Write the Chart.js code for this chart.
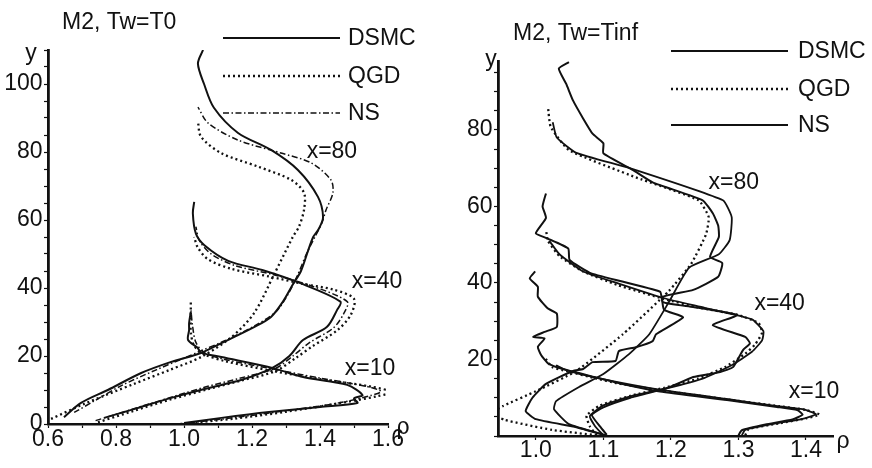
<!DOCTYPE html>
<html>
<head>
<meta charset="utf-8">
<script src="https://cdn.jsdelivr.net/npm/chart.js@4.4.1/dist/chart.umd.min.js"></script>
<style>
  html, body { margin: 0; padding: 0; background: #fff; }
  #wrap { position: relative; width: 872px; height: 468px; }
  .panel { position: absolute; top: 0; width: 436px; height: 468px; }
</style>
</head>
<body>
<div id="wrap">
  <div class="panel" style="left:0"><canvas id="leftChart" width="436" height="468"></canvas></div>
  <div class="panel" style="left:436px"><canvas id="rightChart" width="436" height="468"></canvas></div>
</div>
<script>
const seriesNames = ['DSMC', 'QGD', 'NS'];
const stations = ['x=10', 'x=40', 'x=80'];

// left panel  (M2, Tw=T0), points are [rho, y]
const leftDsmc10 = [[1.0,0.3],[1.11,1.8],[1.25,3.5],[1.40,5],[1.51,6.2],[1.50,7.5],[1.525,8.5],[1.48,11.5],[1.35,13.8],[1.26,16.5],[1.11,19.7],[1.05,21],[1.04,22.4],[1.012,24.7],[1.015,27.6],[1.015,29.7],[1.02,33]];
const leftQgd10 = [[0.99,0],[1.15,1.6],[1.30,3.6],[1.45,6],[1.57,8.2],[1.61,9.4],[1.55,11],[1.40,13.2],[1.26,15.6],[1.12,18.5],[1.06,20.5],[1.03,23],[1.02,27],[1.02,31],[1.02,36]];
const leftNs10 = [[1.015,0.3],[1.15,1.9],[1.30,3.9],[1.45,6.1],[1.55,8.4],[1.58,9.6],[1.53,11.2],[1.40,13.5],[1.27,16],[1.12,19],[1.06,21],[1.035,24],[1.025,29],[1.02,34]];

const leftDsmc40 = [[0.765,1.8],[0.86,4.6],[0.96,7.6],[1.06,10.3],[1.17,13],[1.26,16.5],[1.31,20],[1.35,24.7],[1.42,28.5],[1.45,33.5],[1.46,36],[1.34,41.5],[1.23,45.3],[1.13,48],[1.06,52.6],[1.035,56],[1.026,62],[1.03,65.3]];
const leftQgd40 = [[0.747,0.5],[0.85,3.8],[0.96,7.2],[1.07,10.2],[1.17,12.8],[1.27,15.6],[1.33,19.5],[1.38,23],[1.45,27.5],[1.49,32],[1.50,36.8],[1.44,39.5],[1.35,41.2],[1.25,43.4],[1.14,45.6],[1.07,48.5],[1.04,52],[1.03,55]];
const leftNs40 = [[0.74,1],[0.85,4.4],[0.96,7.8],[1.06,10.8],[1.17,13.6],[1.27,16.4],[1.32,20],[1.37,24],[1.44,28.3],[1.47,32.5],[1.48,36],[1.37,40.8],[1.26,44],[1.15,46.6],[1.08,50],[1.045,54],[1.035,58]];

const leftDsmc80 = [[0.647,2],[0.697,6.2],[0.776,10],[0.874,15],[0.96,18.2],[1.05,20.9],[1.11,23.8],[1.206,28.5],[1.256,31.5],[1.291,36],[1.32,41],[1.344,45],[1.365,51],[1.38,55],[1.397,57.5],[1.409,60.9],[1.394,66.8],[1.335,74.7],[1.256,80.6],[1.159,85.6],[1.088,93],[1.059,100],[1.041,106],[1.056,110]];
const leftQgd80 = [[0.609,1.5],[0.706,5.9],[0.853,11.8],[0.96,16],[1.05,19.7],[1.14,25.6],[1.206,32.6],[1.265,44],[1.32,55],[1.338,58],[1.353,63],[1.353,68],[1.315,71.8],[1.218,75.7],[1.109,79.7],[1.05,84.5],[1.041,89]];
const leftNs80 = [[0.677,3.4],[0.74,7],[0.82,11.5],[0.92,16],[1.05,21.5],[1.12,24.5],[1.21,29],[1.27,33],[1.305,38],[1.335,44],[1.36,50],[1.385,55],[1.405,59],[1.418,63],[1.438,68],[1.432,71.8],[1.374,76.8],[1.285,79.7],[1.159,83.5],[1.071,88.5],[1.041,93.2]];

// right panel  (M2, Tw=Tinf)
const rightDsmc10 = [[1.30,0.2],[1.305,1.5],[1.34,3],[1.38,4.3],[1.395,5.6],[1.387,6.8],[1.357,7.6],[1.283,9.4],[1.184,11.6],[1.13,13.5],[1.087,15.4],[1.04,17.5],[1.018,19],[1.008,21.1],[1.003,23.3],[1.013,25.5],[0.996,25.9],[1.013,27.2],[1.031,28.5],[1.031,32],[1.018,33.3],[1.003,36.4],[1.003,39],[0.991,41.2],[0.999,43]];
const rightQgd10 = [[1.31,0.2],[1.315,1.8],[1.36,3.3],[1.40,4.6],[1.42,5.6],[1.40,6.8],[1.36,7.8],[1.29,9.4],[1.19,11.8],[1.12,13.8],[1.09,15],[1.045,17],[1.024,18],[1.013,20.6]];
const rightNs10 = [[1.305,0.2],[1.31,1.6],[1.35,3.1],[1.395,4.5],[1.415,5.7],[1.395,7],[1.355,7.9],[1.285,9.6],[1.19,11.9],[1.09,15.2],[1.045,17.2],[1.03,18.5]];

const rightDsmc40 = [[1.105,0.3],[1.095,2.5],[1.083,5.5],[1.10,7.5],[1.14,10],[1.184,12],[1.199,12.8],[1.233,15.4],[1.273,16.7],[1.292,18],[1.307,22.5],[1.317,24.2],[1.31,25.9],[1.262,29],[1.298,31.6],[1.233,33.7],[1.188,35],[1.184,37.7],[1.082,42.5],[1.05,46],[1.048,49],[1.016,51.7],[1.0,53],[1.015,57],[1.01,60],[1.015,63.4]];
const rightQgd40 = [[1.09,0.2],[1.08,2.5],[1.075,5.3],[1.095,8],[1.14,10.5],[1.19,12.6],[1.24,15],[1.28,18],[1.31,21.5],[1.325,24],[1.335,27],[1.33,29.5],[1.30,31.6],[1.24,33.6],[1.19,35.8],[1.12,39.5],[1.07,43],[1.035,47],[1.018,51],[1.015,54]];
const rightNs40 = [[1.10,0.2],[1.088,2.5],[1.08,5.2],[1.10,8],[1.145,10.6],[1.195,12.5],[1.25,15.2],[1.29,18.5],[1.32,22],[1.335,25],[1.337,27.4],[1.32,30.5],[1.25,33.5],[1.19,36],[1.12,40],[1.07,43],[1.035,47.5],[1.02,51]];

const rightDsmc80 = [[1.10,0.3],[1.06,2.3],[1.0,4.4],[0.985,6.5],[0.995,10],[1.015,13.6],[1.055,17],[1.07,17.5],[1.084,19.3],[1.118,19.6],[1.123,22.2],[1.148,23.2],[1.173,24.8],[1.178,26.6],[1.218,31],[1.19,33],[1.188,36.4],[1.233,38.2],[1.27,41.6],[1.276,45.2],[1.258,46.8],[1.271,52],[1.27,55],[1.262,58.2],[1.247,61.6],[1.173,66.3],[1.144,69.5],[1.10,73.9],[1.10,76.5],[1.084,79],[1.07,83],[1.055,87.7],[1.045,92],[1.034,96],[1.049,97.7]];
const rightQgd80 = [[1.09,0.2],[1.024,1.6],[0.954,4.2],[0.935,6],[0.951,7.8],[1.0,11.7],[1.06,17],[1.129,26.6],[1.197,37.9],[1.23,45],[1.252,52.7],[1.256,57.2],[1.241,61.6],[1.148,67.6],[1.049,74.7],[1.022,80.8],[1.018,86]];
const rightNs80 = [[1.104,0.2],[1.049,3.1],[1.027,7],[1.03,9.1],[1.064,12.8],[1.10,16.2],[1.138,21.4],[1.168,26.6],[1.197,35],[1.227,44],[1.271,47.5],[1.287,51.2],[1.29,57.2],[1.277,61.6],[1.139,70],[1.06,74],[1.031,78],[1.025,82]];

// tick labels
const leftXLabels = ['0.6', '0.8', '1.0', '1.2', '1.4', '1.6'];
const leftYLabels = [0, 20, 40, 60, 80, 100];
const rightXLabels = ['1.0', '1.1', '1.2', '1.3', '1.4'];
const rightYLabels = [20, 40, 60, 80];

// where the station names sit, in data units [rho, y]
const leftNotes = [[1.547, 16.2], [1.568, 41.8], [1.435, 80]];
const rightNotes = [[1.412, 11.7], [1.361, 34.5], [1.293, 66.3]];

const ink = '#111';
const fontFamily = '"Liberation Sans", Arial, Helvetica, sans-serif';

function curve(points, style, tension) {
  return {
    data: points.map(p => ({ x: p[0], y: p[1] })),
    showLine: true,
    pointRadius: 0,
    borderColor: ink,
    borderWidth: style.width,
    borderDash: style.dash,
    tension: tension,
    fill: false
  };
}

function decor(cfg) {
  return {
    id: 'decor',
    afterDraw(chart) {
      const ctx = chart.ctx;
      const xs = chart.scales.x, ys = chart.scales.y;
      ctx.save();
      ctx.fillStyle = ink;
      ctx.strokeStyle = ink;
      ctx.font = '23px ' + fontFamily;
      ctx.textBaseline = 'middle';
      ctx.textAlign = 'left';
      ctx.fillText(cfg.title, cfg.titlePos[0], cfg.titlePos[1]);

      // legend: line sample then name
      cfg.legendY.forEach((ly, i) => {
        const st = cfg.styles[i];
        ctx.lineWidth = st.width;
        ctx.setLineDash(st.dash);
        ctx.beginPath();
        ctx.moveTo(cfg.legendX[0], ly);
        ctx.lineTo(cfg.legendX[1], ly);
        ctx.stroke();
        ctx.setLineDash([]);
        ctx.fillText(seriesNames[i], cfg.legendX[2], ly + 1);
      });

      ctx.textAlign = 'center';
      cfg.notes.forEach((n, i) => {
        ctx.fillText(stations[i], xs.getPixelForValue(n[0]), ys.getPixelForValue(n[1]));
      });
      ctx.fillText('y', cfg.yName[0], cfg.yName[1]);
      ctx.fillText('ρ', cfg.rhoName[0], cfg.rhoName[1]);
      ctx.restore();
    }
  };
}

function makeChart(id, cfg) {
  const datasets = [];
  cfg.curves.forEach((group, s) => {
    group.forEach(c => datasets.push(curve(c, cfg.styles[s], cfg.tension)));
  });
  const tickFont = { family: fontFamily, size: 23, lineHeight: 1 };
  return new Chart(document.getElementById(id), {
    type: 'scatter',
    data: { datasets: datasets },
    options: {
      responsive: false,
      animation: false,
      devicePixelRatio: 1,
      layout: { padding: { top: cfg.top, right: cfg.right, left: 0, bottom: 0 } },
      plugins: { legend: { display: false }, tooltip: { enabled: false } },
      scales: {
        x: {
          type: 'linear',
          min: cfg.xMin, max: cfg.xMax,
          afterFit: s => { s.height = cfg.xHeight; },
          border: { color: ink, width: 2.5 },
          grid: { drawOnChartArea: false, color: ink, tickLength: 4, tickWidth: 1.2 },
          ticks: {
            stepSize: 0.1, includeBounds: false, autoSkip: false, maxRotation: 0,
            padding: cfg.xPad, color: ink, font: tickFont,
            callback: v => cfg.xLabels.includes(v.toFixed(1)) ? v.toFixed(1) : ''
          }
        },
        y: {
          type: 'linear',
          min: 0, max: cfg.yMax,
          afterFit: s => { s.width = cfg.left; },
          border: { color: ink, width: 2.8 },
          grid: { drawOnChartArea: false, color: ink, tickLength: 4, tickWidth: 1.2 },
          ticks: {
            stepSize: 5, includeBounds: false, autoSkip: false,
            padding: 1.5, color: ink, font: tickFont,
            callback: v => cfg.yLabels.includes(v) ? String(v) : ''
          }
        }
      }
    },
    plugins: [decor(cfg)]
  });
}

const leftStyles = [
  { width: 2, dash: [] },
  { width: 2.3, dash: [2, 3] },
  { width: 1.5, dash: [6, 2.5, 1.5, 2.5] }
];
const rightStyles = [
  { width: 2, dash: [] },
  { width: 2.3, dash: [2, 3] },
  { width: 1.8, dash: [] }
];

makeChart('leftChart', {
  curves: [
    [leftDsmc10, leftDsmc40, leftDsmc80],
    [leftQgd10, leftQgd40, leftQgd80],
    [leftNs10, leftNs40, leftNs80]
  ],
  styles: leftStyles,
  tension: 0.3,
  xMin: 0.6, xMax: 1.6, yMax: 110,
  left: 48, right: 48, top: 50, xHeight: 44, xPad: 0,
  xLabels: leftXLabels, yLabels: leftYLabels,
  notes: leftNotes,
  title: 'M2, Tw=T0', titlePos: [62, 23],
  legendX: [223, 340, 348], legendY: [38, 76, 113],
  yName: [31, 54], rhoName: [403, 428]
});

makeChart('rightChart', {
  curves: [
    [rightDsmc10, rightDsmc40, rightDsmc80],
    [rightQgd10, rightQgd40, rightQgd80],
    [rightNs10, rightNs40, rightNs80]
  ],
  styles: rightStyles,
  tension: 0.15,
  xMin: 0.944, xMax: 1.44, yMax: 98,
  left: 62, right: 39, top: 61, xHeight: 32, xPad: -1,
  xLabels: rightXLabels, yLabels: rightYLabels,
  notes: rightNotes,
  title: 'M2, Tw=Tinf', titlePos: [77, 34],
  legendX: [235, 352, 362], legendY: [51, 89, 125],
  yName: [55, 60], rhoName: [407, 442]
});
</script>
</body>
</html>
